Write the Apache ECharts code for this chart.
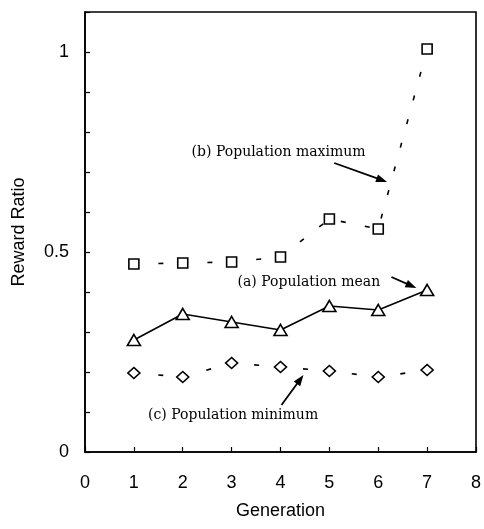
<!DOCTYPE html>
<html>
<head>
<meta charset="utf-8">
<script src="https://cdn.jsdelivr.net/npm/echarts@6/dist/echarts.min.js"></script>
<style>html,body{margin:0;padding:0;background:#fff}#c{width:484px;height:529px}</style>
</head>
<body>
<div id="c"></div>
<script>
var generations = [1, 2, 3, 4, 5, 6, 7];
var popMax  = [0.47, 0.4725, 0.475, 0.4875, 0.5825, 0.5575, 1.0075];
var popMean = [0.28, 0.345, 0.325, 0.305, 0.365, 0.355, 0.405];
var popMin  = [0.1975, 0.1875, 0.2225, 0.2125, 0.2025, 0.1875, 0.205];
var yTickLabels = [0, 0.5, 1];

// annotations: text anchor and arrow (from -> to) in data coordinates
var annotations = [
  {text: '(b) Population maximum', at: [2.18, 0.749], from: [5.10, 0.7225], to: [6.18, 0.675]},
  {text: '(a) Population mean',    at: [3.12, 0.425], from: [6.27, 0.4375], to: [6.78, 0.41]},
  {text: '(c) Population minimum', at: [1.29, 0.0925], from: [4.02, 0.1175], to: [4.47, 0.1925]}
];

function pairs(ys) { return generations.map(function (g, i) { return [g, ys[i]]; }); }

var chart = echarts.init(document.getElementById('c'), null, {renderer: 'canvas'});
var tickFont = {fontFamily: 'Liberation Sans', fontSize: 18, color: '#000'};
chart.setOption({
  animation: false,
  backgroundColor: '#fff',
  grid: {left: 85, right: 7, top: 12, bottom: 77, show: true, borderColor: '#000', borderWidth: 1.6, backgroundColor: 'transparent'},
  xAxis: {
    type: 'value', min: 0, max: 8, interval: 1,
    name: 'Generation', nameLocation: 'middle', nameGap: 50,
    nameTextStyle: {fontFamily: 'Liberation Sans', fontSize: 18, color: '#000'},
    axisLine: {show: true, lineStyle: {color: '#000', width: 1.6}},
    axisTick: {show: true, inside: true, length: 5, lineStyle: {color: '#000', width: 1.2}},
    axisLabel: Object.assign({margin: 22}, tickFont),
    splitLine: {show: false}
  },
  yAxis: {
    type: 'value', min: 0, max: 1.1, interval: 0.1,
    name: 'Reward Ratio', nameLocation: 'middle', nameGap: 57,
    nameTextStyle: {fontFamily: 'Liberation Sans', fontSize: 18, color: '#000'},
    axisLine: {show: true, lineStyle: {color: '#000', width: 1.6}},
    axisTick: {show: true, inside: true, length: 5, lineStyle: {color: '#000', width: 1.2}},
    axisLabel: Object.assign({margin: 16, formatter: function (v) {
      for (var i = 0; i < yTickLabels.length; i++) { if (Math.abs(v - yTickLabels[i]) < 1e-6) return String(yTickLabels[i]); }
      return '';
    }}, tickFont),
    splitLine: {show: false}
  },
  series: [
    {type: 'line', data: pairs(popMax), symbol: 'rect', symbolSize: 10,
     lineStyle: {color: '#000', width: 1.6, type: [5, 19.5]},
     itemStyle: {color: '#fff', borderColor: '#000', borderWidth: 1.6}},
    {type: 'line', data: pairs(popMean), symbol: 'triangle', symbolSize: [13, 11],
     lineStyle: {color: '#000', width: 1.6},
     itemStyle: {color: '#fff', borderColor: '#000', borderWidth: 1.6}},
    {type: 'line', data: pairs(popMin), symbol: 'diamond', symbolSize: [12, 11],
     lineStyle: {color: '#000', width: 1.6, type: [5, 19.5]},
     itemStyle: {color: '#fff', borderColor: '#000', borderWidth: 1.6}}
  ]
});

var els = [];
annotations.forEach(function (a) {
  var p = chart.convertToPixel({gridIndex: 0}, a.at);
  var f = chart.convertToPixel({gridIndex: 0}, a.from);
  var t = chart.convertToPixel({gridIndex: 0}, a.to);
  els.push({type: 'text', x: p[0], y: p[1], style: {text: a.text, fontFamily: 'DejaVu Serif', fontSize: 14, fill: '#000', textAlign: 'left', textVerticalAlign: 'middle'}});
  var dx = t[0] - f[0], dy = t[1] - f[1], L = Math.sqrt(dx * dx + dy * dy);
  var ux = dx / L, uy = dy / L, hl = 11, hw = 4;
  var bx = t[0] - ux * hl, by = t[1] - uy * hl;
  els.push({type: 'line', shape: {x1: f[0], y1: f[1], x2: bx + ux * 2, y2: by + uy * 2}, style: {stroke: '#000', lineWidth: 1.8}});
  els.push({type: 'polygon', shape: {points: [[t[0], t[1]], [bx - uy * hw, by + ux * hw], [bx + uy * hw, by - ux * hw]]}, style: {fill: '#000'}});
});
chart.setOption({graphic: els});
</script>
</body>
</html>
